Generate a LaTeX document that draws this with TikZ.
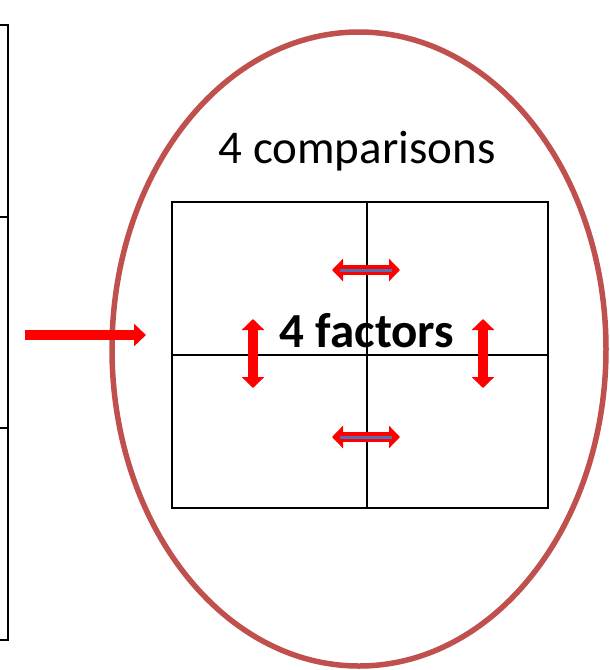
\documentclass[tikz,border=0pt]{standalone}
\usepackage{fontspec}
\setmainfont{Carlito}
\usetikzlibrary{arrows.meta,positioning,shapes.geometric}
\definecolor{ellred}{RGB}{192,80,77}
\definecolor{lineblue}{RGB}{84,110,180}

\begin{document}
\begin{tikzpicture}[x=1pt,y=-1pt,
    gridline/.style={black,line width=2.6pt},
    redarrow/.style={red,line width=10pt,{Triangle[width=22pt,length=11pt]}-{Triangle[width=22pt,length=11pt]}}]
    \useasboundingbox (0,0) rectangle (610,670);
    % Table (cut off at the left)
    \draw[line width=2.8pt] (-20,25) -- (8,25) -- (8,640) -- (-20,640);
    \draw[line width=2.6pt] (-20,217) -- (8,217);
    \draw[line width=2.6pt] (-20,428) -- (8,428);
    % Ellipse
    \node[ellipse,draw=ellred,line width=5.5pt,minimum width=494pt,minimum height=634pt,inner sep=0pt] (scope) at (359,349) {};
    \node[font=\fontsize{47}{52}\selectfont,anchor=base] (title) at (357,163) {4 comparisons};
    % Grid
    \node[draw,line width=2.6pt,minimum width=376pt,minimum height=306pt,inner sep=0pt] (grid) at (360,355) {};
    \coordinate (gtop) at (367,202);
    \coordinate (gbot) at (367,508);
    \draw[gridline] (gtop) -- (gbot);
    \draw[gridline] (grid.west) -- (grid.east);
    % Arrow into the ellipse
    \coordinate (from) at (25,335);
    \coordinate (to) at (146,335);
    \draw[red,line width=10pt,-{Triangle[width=22pt,length=12pt]}] (from) -- (to);
    % Comparisons
    \coordinate (t1) at (332,270);
    \coordinate (t2) at (400,270);
    \coordinate (b1) at (332,437);
    \coordinate (b2) at (400,437);
    \coordinate (l1) at (253,319);
    \coordinate (l2) at (253,388);
    \coordinate (r1) at (483,319);
    \coordinate (r2) at (483,388);
    \draw[redarrow] (t1) -- (t2);
    \draw[lineblue,line width=3pt] ([xshift=8pt]t1) -- ([xshift=-8pt]t2);
    \draw[redarrow] (b1) -- (b2);
    \draw[lineblue,line width=3pt] ([xshift=8pt]b1) -- ([xshift=-8pt]b2);
    \draw[redarrow] (l1) -- (l2);
    \draw[redarrow] (r1) -- (r2);
    \node[font=\fontsize{49}{54}\selectfont\bfseries,anchor=base] (factors) at (367,347) {4 factors};
\end{tikzpicture}
\end{document}
